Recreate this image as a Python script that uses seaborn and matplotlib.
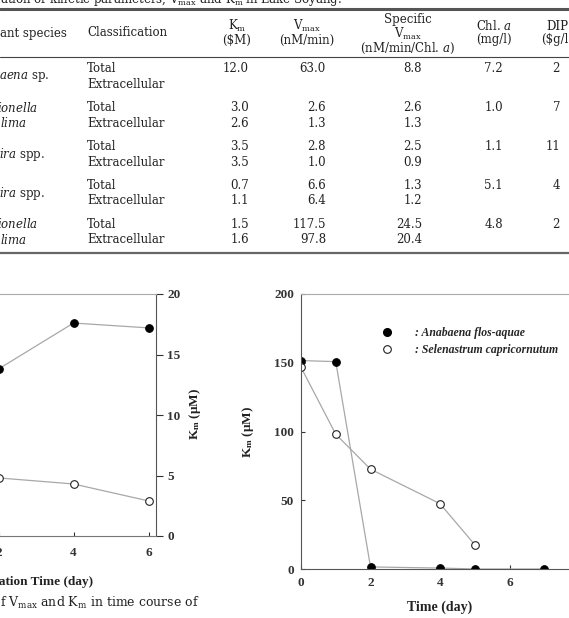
import seaborn as sns
import matplotlib.pyplot as plt
from matplotlib.lines import Line2D

# =========================
# DATA - TABLE
# =========================

species_top = [r"$\mathit{aena}$ sp.", r"$\mathit{ionella}$", r"$\mathit{ira}$ spp.",
               r"$\mathit{ira}$ spp.", r"$\mathit{ionella}$"]
species_bottom = ["", r"$\mathit{lima}$", "", "", r"$\mathit{lima}$"]
classes = ["Total", "Extracellular"]

km_total = [12.0, 3.0, 3.5, 0.7, 1.5]
km_extra = [None, 2.6, 3.5, 1.1, 1.6]
vmax_total = [63.0, 2.6, 2.8, 6.6, 117.5]
vmax_extra = [None, 1.3, 1.0, 6.4, 97.8]
spec_total = [8.8, 2.6, 2.5, 1.3, 24.5]
spec_extra = [None, 1.3, 0.9, 1.2, 20.4]
chl_a = [7.2, 1.0, 1.1, 5.1, 4.8]
dip = [2, 7, 11, 4, 2]

# =========================
# DATA - CHARTS
# =========================

incub_days = [2, 4, 6]
left_filled = [13.8, 17.6, 17.2]
left_open = [4.8, 4.3, 2.9]

time_anabaena = [0, 1, 2, 4, 5, 7]
km_anabaena = [151.6, 150.8, 1.5, 0.7, 0.0, 0.0]
time_selen = [0, 1, 2, 4, 5]
km_selen = [146.7, 98.0, 72.6, 47.5, 17.7]

# =========================
# STYLE
# =========================

sns.set_style("ticks")
plt.rcParams['font.family'] = ['DejaVu Serif']
plt.rcParams['mathtext.rm'] = 'Liberation Serif:bold'
plt.rcParams['mathtext.it'] = 'Liberation Serif:bold:italic'

W, H = 569, 618
fig = plt.figure(figsize=(W / 100, H / 100), dpi=100)


def fx(px):
    return px / W


def fy(py):
    return 1 - py / H


def box(l, t, r, b):
    return [fx(l), fy(b), fx(r) - fx(l), fy(t) - fy(b)]


TXT = dict(fontsize=8.5, color='#222222', math_fontfamily='dejavuserif')

# =========================
# TABLE
# =========================

fig.text(fx(0), fy(2.5), r"ation of kinetic parameters, V$_{\rm max}$ and K$_{\rm m}$ in Lake Soyang.",
         ha='left', va='baseline', **TXT)
fig.add_artist(Line2D([0, 1], [fy(9), fy(9)], transform=fig.transFigure, color='#555555', lw=2.2))
fig.add_artist(Line2D([0, 1], [fy(57), fy(57)], transform=fig.transFigure, color='#444444', lw=0.8))
fig.add_artist(Line2D([0, 1], [fy(252.5), fy(252.5)], transform=fig.transFigure, color='#666666', lw=1.6))

# header
fig.text(fx(0), fy(33), "ant species", ha='left', va='center', **TXT)
fig.text(fx(87), fy(33), "Classification", ha='left', va='center', **TXT)
fig.text(fx(237), fy(26), r"K$_{\rm m}$", ha='center', va='center', **TXT)
fig.text(fx(237), fy(40), r"(\$M)", ha='center', va='center', **TXT)
fig.text(fx(307), fy(26), r"V$_{\rm max}$", ha='center', va='center', **TXT)
fig.text(fx(307), fy(40), "(nM/min)", ha='center', va='center', **TXT)
fig.text(fx(408), fy(20), "Specific", ha='center', va='center', **TXT)
fig.text(fx(408), fy(34), r"V$_{\rm max}$", ha='center', va='center', **TXT)
fig.text(fx(408), fy(48), r"(nM/min/Chl. $\mathit{a}$)", ha='center', va='center', **TXT)
fig.text(fx(494), fy(26), r"Chl. $\mathit{a}$", ha='center', va='center', **TXT)
fig.text(fx(494), fy(40), "(mg/l)", ha='center', va='center', **TXT)
fig.text(fx(557), fy(26), "DIP", ha='center', va='center', **TXT)
fig.text(fx(557), fy(40), r"(\$g/l)", ha='center', va='center', **TXT)


def num(v):
    return "" if v is None else f"{v:.1f}"


for i in range(len(species_top)):
    y0 = 69 + 38.8 * i
    y1 = y0 + 15.5
    if species_bottom[i]:
        fig.text(fx(-3), fy(y0), species_top[i], ha='left', va='center', **TXT)
        fig.text(fx(0), fy(y1), species_bottom[i], ha='left', va='center', **TXT)
    else:
        fig.text(fx(-1), fy((y0 + y1) / 2), species_top[i], ha='left', va='center', **TXT)
    fig.text(fx(87), fy(y0), classes[0], ha='left', va='center', **TXT)
    fig.text(fx(87), fy(y1), classes[1], ha='left', va='center', **TXT)
    fig.text(fx(249), fy(y0), num(km_total[i]), ha='right', va='center', **TXT)
    fig.text(fx(249), fy(y1), num(km_extra[i]), ha='right', va='center', **TXT)
    fig.text(fx(326), fy(y0), num(vmax_total[i]), ha='right', va='center', **TXT)
    fig.text(fx(326), fy(y1), num(vmax_extra[i]), ha='right', va='center', **TXT)
    fig.text(fx(422), fy(y0), num(spec_total[i]), ha='right', va='center', **TXT)
    fig.text(fx(422), fy(y1), num(spec_extra[i]), ha='right', va='center', **TXT)
    fig.text(fx(503), fy(y0), num(chl_a[i]), ha='right', va='center', **TXT)
    fig.text(fx(560), fy(y0), str(dip[i]), ha='right', va='center', **TXT)

# =========================
# CHARTS
# =========================

CHART = dict(family='Liberation Serif', weight='bold', color='#222222')
LINE = '#a8a8a8'
MS = 5.5
TICKSIZE = 9.5

# ---- left chart (cut off) ----
ax1 = fig.add_axes(box(156 - 6.2 * 37.5, 294, 156, 536))
sns.lineplot(x=incub_days, y=left_filled, ax=ax1, color=LINE, lw=0.9, marker='o', ms=MS,
             markerfacecolor='black', markeredgecolor='black')
sns.lineplot(x=incub_days, y=left_open, ax=ax1, color=LINE, lw=0.9, marker='o', ms=MS,
             markerfacecolor='white', markeredgecolor='#222222', markeredgewidth=0.8)
ax1.set_xlim(0, 6.2)
ax1.set_ylim(0, 20)
ax1.set_xticks([0, 2, 4, 6])
ax1.set_yticks([0, 5, 10, 15, 20])
ax1.yaxis.tick_right()
ax1.tick_params(axis='y', direction='out', length=5, width=0.8, pad=3, labelsize=TICKSIZE, colors='#333333')
ax1.tick_params(axis='x', direction='in', length=3, width=0.8, pad=8, labelsize=TICKSIZE, colors='#333333')
for lab in ax1.get_xticklabels() + ax1.get_yticklabels():
    lab.set_fontfamily('Liberation Serif')
    lab.set_fontweight('bold')
ax1.spines['left'].set_visible(False)
ax1.spines['right'].set_visible(True)
ax1.spines['right'].set_color('#555555')
ax1.spines['bottom'].set_color('#777777')
ax1.spines['top'].set_color('#aaaaaa')
for s in ax1.spines.values():
    s.set_linewidth(0.8)
ax1.set_xlabel('')
ax1.set_ylabel('')
fig.text(fx(195), fy(414), r"K$_{\rm m}$ (μM)", rotation=90, ha='center', va='center',
         fontsize=9.5, math_fontfamily='custom', **CHART)
fig.text(fx(93), fy(582), "Incubation Time (day)", ha='right', va='center', fontsize=9.5, **CHART)

# figure caption (cut off at left)
fig.text(fx(0), fy(603), r"f V$_{\rm max}$ and K$_{\rm m}$ in time course of", ha='left', va='center',
         fontsize=9, color='#222222', math_fontfamily='dejavuserif')

# ---- right chart ----
ax2 = fig.add_axes(box(301, 294, 301 + 8 * 34.75, 569))
sns.lineplot(x=time_anabaena, y=km_anabaena, ax=ax2, color=LINE, lw=0.9, marker='o', ms=MS,
             markerfacecolor='black', markeredgecolor='black')
sns.lineplot(x=time_selen, y=km_selen, ax=ax2, color=LINE, lw=0.9, marker='o', ms=MS,
             markerfacecolor='white', markeredgecolor='#222222', markeredgewidth=0.8)
ax2.set_xlim(0, 8)
ax2.set_ylim(0, 200)
ax2.set_xticks([0, 2, 4, 6, 8])
ax2.set_yticks([0, 50, 100, 150, 200])
ax2.tick_params(axis='both', direction='in', length=3, width=0.8, labelsize=TICKSIZE, colors='#333333')
ax2.tick_params(axis='y', pad=5)
ax2.tick_params(axis='x', pad=6)
for lab in ax2.get_xticklabels() + ax2.get_yticklabels():
    lab.set_fontfamily('Liberation Serif')
    lab.set_fontweight('bold')
ax2.spines['right'].set_visible(False)
ax2.spines['left'].set_color('#555555')
ax2.spines['bottom'].set_color('#555555')
ax2.spines['top'].set_color('#aaaaaa')
for s in ax2.spines.values():
    s.set_linewidth(0.8)
ax2.set_xlabel('')
ax2.set_ylabel('')
fig.text(fx(248), fy(432), r"K$_{\rm m}$ (μM)", rotation=90, ha='center', va='center',
         fontsize=9.5, math_fontfamily='custom', **CHART)
fig.text(fx(440), fy(607), "Time (day)", ha='center', va='center', fontsize=10, **CHART)

handles = [
    Line2D([], [], ls='none', marker='o', ms=MS, markerfacecolor='black', markeredgecolor='black'),
    Line2D([], [], ls='none', marker='o', ms=MS, markerfacecolor='white', markeredgecolor='#222222',
           markeredgewidth=0.8),
]
ax2.legend(handles, [": Anabaena flos-aquae", ": Selenastrum capricornutum"],
           loc='upper left', bbox_to_anchor=(fx(381), fy(327.5)), bbox_transform=fig.transFigure,
           frameon=False, borderpad=0, borderaxespad=0, handlelength=1.0, handletextpad=1.9,
           labelspacing=0.4,
           prop=dict(family='Liberation Serif', style='italic', weight='bold', size=8.5))

fig.savefig('out.png', dpi=100)
